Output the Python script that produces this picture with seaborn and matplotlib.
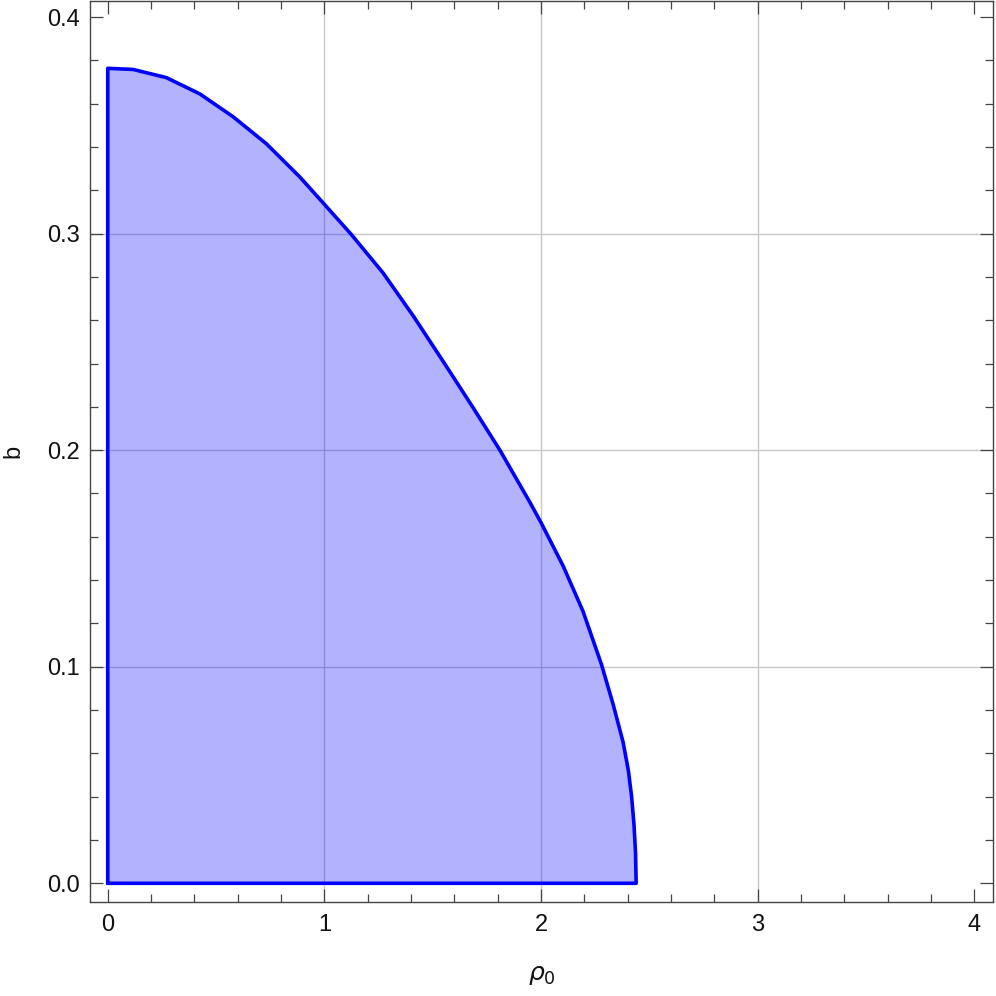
import matplotlib
matplotlib.use("Agg")
import matplotlib.pyplot as plt
import seaborn as sns
from matplotlib.ticker import FormatStrFormatter, MultipleLocator

# boundary of the allowed region
rho0 = [0.0, 0.117, 0.271, 0.425, 0.578, 0.732, 0.886, 1.0, 1.125, 1.271,
        1.41, 1.548, 1.687, 1.81, 1.948, 2.0, 2.102, 2.194, 2.279, 2.333,
        2.379, 2.403, 2.418, 2.429, 2.436, 2.439]
b_max = [0.3763, 0.3758, 0.372, 0.3645, 0.354, 0.3415, 0.3262, 0.3135,
         0.2995, 0.2818, 0.262, 0.241, 0.2195, 0.200, 0.1760, 0.1665, 0.1465,
         0.1255, 0.101, 0.0825, 0.065, 0.052, 0.040, 0.027, 0.014, 0.0]

x_grid = [1, 2, 3]
y_grid = [0.1, 0.2, 0.3]

sns.set_style("ticks")
plt.rcParams["font.family"] = ["Liberation Sans", "DejaVu Sans"]
plt.rcParams["mathtext.fontset"] = "dejavusans"

fig = plt.figure(figsize=(9.96, 9.96), dpi=100)
ax = fig.add_axes([0.0904, 0.0944, 0.9066, 0.9046])

for gx in x_grid:
    ax.axvline(gx, color="#c8c8c8", lw=1.0, zorder=0)
for gy in y_grid:
    ax.axhline(gy, color="#c8c8c8", lw=1.0, zorder=0)

ax.fill_between(rho0, b_max, 0, color="blue", alpha=0.3, lw=0, zorder=1)

# closed outline: up the b axis, along the curve, back along rho0 axis
outline_x = [0.0] + rho0 + [0.0]
outline_y = [0.0] + b_max + [0.0]
sns.lineplot(x=outline_x, y=outline_y, sort=False, estimator=None,
             color="blue", lw=2.6, ax=ax, zorder=3)
ax.lines[-1].set_solid_joinstyle("round")

ax.set_xlim(-0.0817, 4.086)
ax.set_ylim(-0.00863, 0.4074)

ax.xaxis.set_major_locator(MultipleLocator(1))
ax.xaxis.set_minor_locator(MultipleLocator(0.2))
ax.yaxis.set_major_locator(MultipleLocator(0.1))
ax.yaxis.set_minor_locator(MultipleLocator(0.02))
ax.yaxis.set_major_formatter(FormatStrFormatter("%.1f"))

for side in ax.spines.values():
    side.set_color("#444444")
    side.set_linewidth(1.0)

ax.tick_params(which="both", direction="in", top=True, right=True,
               color="#444444", width=0.9, labelcolor="#111111",
               labelsize=17)
ax.tick_params(which="major", length=9.5)
ax.tick_params(which="minor", length=5.5)
ax.tick_params(axis="x", which="major", pad=9)
ax.tick_params(axis="y", which="major", pad=7)

ax.set_xlabel(r"$\rho_0$", fontsize=18, color="#111111", labelpad=19)
ax.set_ylabel("b", fontsize=17, color="#111111", labelpad=17)

fig.savefig("out.png", dpi=100)
plt.close(fig)
